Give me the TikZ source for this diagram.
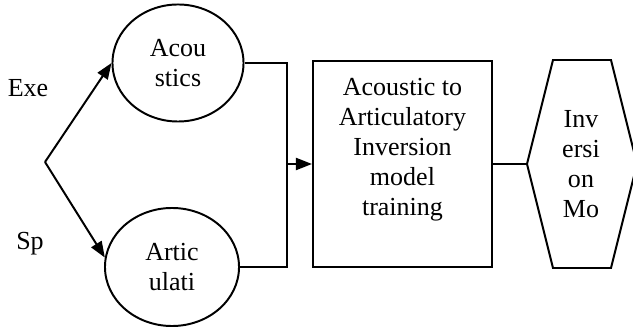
\documentclass[tikz,border=0pt]{standalone}
\usepackage{fontspec}
\setmainfont{Liberation Serif}
\usepackage{tikz}
\usetikzlibrary{positioning, shapes.geometric, arrows.meta}

\begin{document}
\begin{tikzpicture}[x=0.025cm, y=-0.025cm,
    every node/.style={font=\fontsize{18.5}{21.3}\selectfont, inner sep=0pt},
    feature/.style={ellipse, draw, line width=1.4pt, align=center},
    trainbox/.style={rectangle, draw, line width=1.4pt, align=center, minimum width=4.475cm, minimum height=5.15cm},
    feed/.style={line width=1.4pt, -{Triangle[length=0.4cm, width=0.3cm]}},
    link/.style={line width=0.8pt}]
    \useasboundingbox (0,0) rectangle (633,327);

    % Inputs
    \coordinate (split) at (45,162);
    \node (exe) at (28,88) {Exe};
    \node (sp) at (30,244) {Sp};

    % Feature circles
    \node[feature, minimum width=3.275cm, minimum height=2.925cm] (acou) at (178,63) {Acou\\stics};
    \node[feature, minimum width=3.35cm, minimum height=2.95cm] (artic) at (172,267) {Artic\\ulati};

    % Training block and model
    \node[trainbox, text depth=0.85cm] (train) at (402.5,164) {Acoustic to\\Articulatory\\Inversion\\model\\training};
    \node[align=center] (model) at (581,164) {Inv\\ersi\\on\\Mo};
    \coordinate (hexL) at (527,164);
    \draw[line width=1.4pt] (hexL) -- (553,60) -- (611,60) -- (637,164) -- (611,268) -- (553,268) -- cycle;

    % Connectors
    \draw[feed] (split) -- (acou.west);
    \draw[feed] (split) -- (artic.172);
    \coordinate (join) at (287,164);
    \draw[link] (acou.east) -| (join) |- (artic.east);
    \draw[feed] (join) -- (train.west);
    \draw[link] (train.east) -- (hexL);
  \end{tikzpicture}
\end{document}
